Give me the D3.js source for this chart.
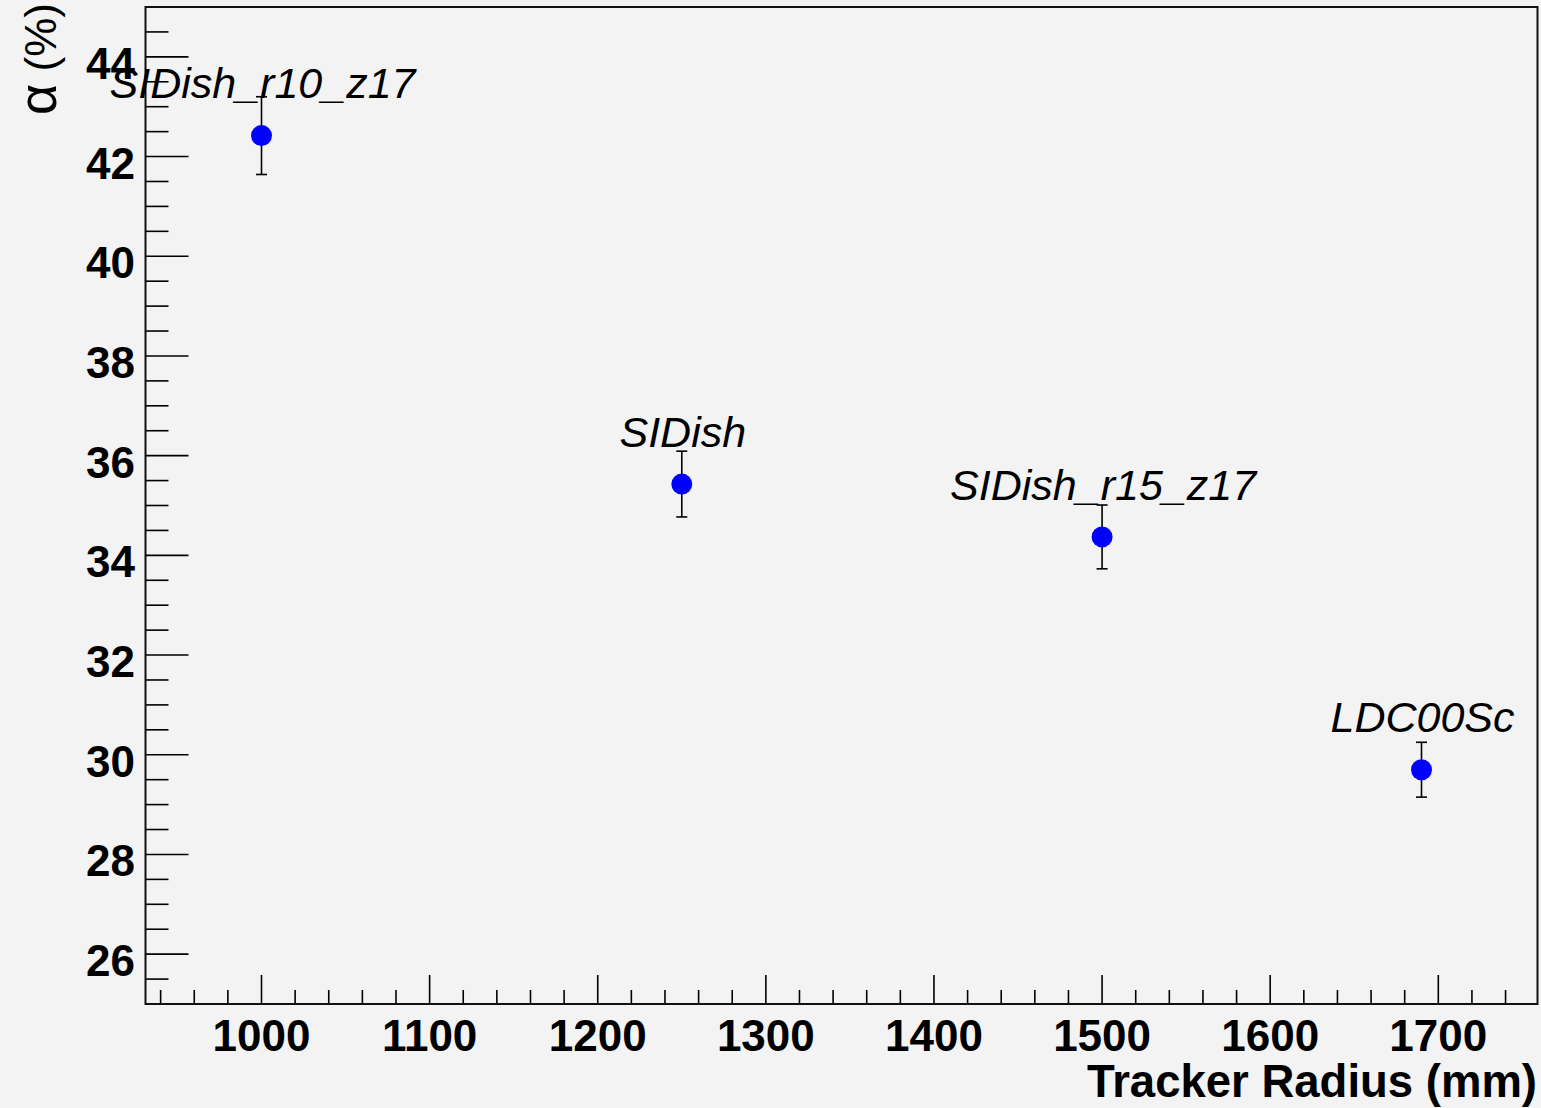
<!DOCTYPE html>
<html>
<head>
<meta charset="utf-8">
<script src="https://cdn.jsdelivr.net/npm/d3@7"></script>
<style>
  html, body { margin: 0; padding: 0; background: #f3f3f3; }
  svg { display: block; }
  text { font-family: "Liberation Sans", Arial, Helvetica, sans-serif; fill: #000; }
</style>
</head>
<body>
<div id="chart"></div>
<script>

// detector configurations and their values
var names = ["SIDish_r10_z17", "SIDish", "SIDish_r15_z17", "LDC00Sc"];
var radius = [1000, 1250, 1500, 1690];
var alpha = [42.42, 35.43, 34.37, 29.7];
var alphaErr = [0.78, 0.66, 0.64, 0.55];

var xMajorTicks = [1000, 1100, 1200, 1300, 1400, 1500, 1600, 1700];
var yMajorTicks = [26, 28, 30, 32, 34, 36, 38, 40, 42, 44];

// svg size and frame of the plot
var W = 1541, H = 1108;
var frame = {left: 145.5, right: 1537.5, top: 7, bottom: 1004};

var svg = d3.select("#chart").append("svg")
  .attr("width", W)
  .attr("height", H);

svg.append("rect")
  .attr("width", W).attr("height", H)
  .attr("fill", "#f3f3f3");

var x = d3.scaleLinear()
  .domain([931, 1759])
  .range([frame.left, frame.right]);

var y = d3.scaleLinear()
  .domain([25, 45])
  .range([frame.bottom, frame.top]);

// minor ticks every 20 mm and every 0.5 %
var xMinor = d3.range(940, 1759, 20);
var yMinor = d3.range(25, 45.01, 0.5);

var axes = svg.append("g")
  .attr("stroke", "#000")
  .attr("stroke-width", 1.6);

axes.selectAll("line.xminor")
  .data(xMinor)
  .enter().append("line")
  .attr("x1", function(d) { return x(d); })
  .attr("x2", function(d) { return x(d); })
  .attr("y1", frame.bottom)
  .attr("y2", function(d) { return xMajorTicks.indexOf(d) >= 0 ? frame.bottom - 29 : frame.bottom - 14; });

axes.selectAll("line.yminor")
  .data(yMinor)
  .enter().append("line")
  .attr("y1", function(d) { return y(d); })
  .attr("y2", function(d) { return y(d); })
  .attr("x1", frame.left)
  .attr("x2", function(d) { return yMajorTicks.indexOf(d) >= 0 ? frame.left + 43 : frame.left + 23; });

// frame
svg.append("rect")
  .attr("x", frame.left)
  .attr("y", frame.top)
  .attr("width", frame.right - frame.left)
  .attr("height", frame.bottom - frame.top)
  .attr("fill", "none")
  .attr("stroke", "#111")
  .attr("stroke-width", 2);

// tick labels
svg.selectAll("text.xlab")
  .data(xMajorTicks)
  .enter().append("text")
  .attr("x", function(d) { return x(d); })
  .attr("y", 1051)
  .attr("text-anchor", "middle")
  .style("font-size", "44px")
  .style("font-weight", "bold")
  .text(function(d) { return d; });

svg.selectAll("text.ylab")
  .data(yMajorTicks)
  .enter().append("text")
  .attr("x", 135)
  .attr("y", function(d) { return y(d) + 22; })
  .attr("text-anchor", "end")
  .style("font-size", "44px")
  .style("font-weight", "bold")
  .text(function(d) { return d; });

// axis titles
svg.append("text")
  .attr("x", 1537)
  .attr("y", 1097)
  .attr("text-anchor", "end")
  .style("font-size", "45.5px")
  .style("font-weight", "bold")
  .text("Tracker Radius (mm)");

var yTitle = svg.append("text")
  .attr("transform", "translate(56,3) rotate(-90)")
  .attr("text-anchor", "end")
  .style("font-size", "44px")
  .style("font-weight", "500");
yTitle.append("tspan").style("font-size", "54px").text("α");
yTitle.append("tspan").text(" (%)");

// error bars
var bars = svg.append("g")
  .attr("stroke", "#000")
  .attr("stroke-width", 1.6);

radius.forEach(function(r, i) {
  var cx = x(r);
  var top = y(alpha[i] + alphaErr[i]);
  var bot = y(alpha[i] - alphaErr[i]);
  bars.append("line").attr("x1", cx).attr("x2", cx).attr("y1", top).attr("y2", bot);
  bars.append("line").attr("x1", cx - 5.5).attr("x2", cx + 5.5).attr("y1", top).attr("y2", top);
  bars.append("line").attr("x1", cx - 5.5).attr("x2", cx + 5.5).attr("y1", bot).attr("y2", bot);
});

// markers
svg.selectAll("circle.pt")
  .data(radius)
  .enter().append("circle")
  .attr("cx", function(d) { return x(d); })
  .attr("cy", function(d, i) { return y(alpha[i]); })
  .attr("r", 10.5)
  .attr("fill", "#0000ff");

// configuration names above each point
svg.selectAll("text.name")
  .data(names)
  .enter().append("text")
  .attr("x", function(d, i) { return x(radius[i]) + 1; })
  .attr("y", function(d, i) { return y(alpha[i] + 0.75); })
  .attr("text-anchor", "middle")
  .style("font-size", "43px")
  .style("font-style", "italic")
  .text(function(d) { return d; });

</script>
</body>
</html>
